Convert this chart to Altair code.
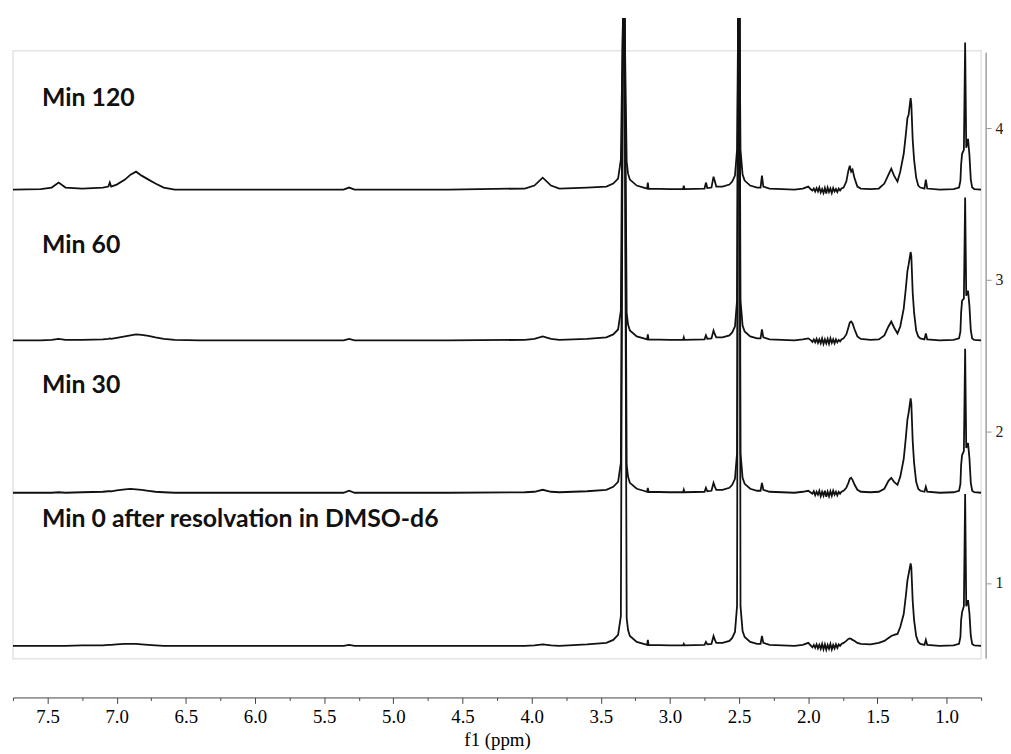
import altair as alt
import pandas as pd

# chemical shift grid (ppm), shared by all four spectra
ppm = [7.75, 7.55, 7.47, 7.42, 7.37, 7.25, 7.10, 7.06, 7.05, 7.04, 7.00, 6.94, 6.90, 6.86, 6.82, 6.77, 6.72, 6.66, 6.58, 6.40,
       5.80, 5.36, 5.32, 5.28, 4.60, 4.05, 3.98, 3.92, 3.86, 3.80, 3.60, 3.46, 3.41, 3.375,
       3.355, 3.340, 3.334, 3.328, 3.313, 3.303, 3.29, 3.24, 3.19, 3.165,
       3.16, 3.155, 3.00, 2.905, 2.90, 2.895, 2.75, 2.74, 2.73, 2.70, 2.685, 2.675, 2.665, 2.62, 2.57, 2.55,
       2.53, 2.515, 2.507, 2.497, 2.49, 2.475, 2.46, 2.42, 2.37, 2.345, 2.335, 2.325, 2.28, 2.10,
       2.04, 2.00, 1.98, 1.97, 1.96, 1.95, 1.94, 1.93, 1.92, 1.91, 1.90, 1.89, 1.88, 1.87, 1.86, 1.85, 1.84, 1.83, 1.82, 1.81, 1.80, 1.79, 1.78, 1.77, 1.76,
       1.745, 1.725, 1.71, 1.70, 1.69, 1.68, 1.665, 1.645, 1.62,
       1.55, 1.49, 1.45, 1.42, 1.40, 1.38, 1.355, 1.335, 1.31, 1.295, 1.283, 1.275, 1.26, 1.255, 1.245, 1.235, 1.22, 1.205, 1.19, 1.16, 1.15, 1.14, 1.05, 0.95, 0.91,
       0.90, 0.895, 0.888, 0.875, 0.866, 0.858, 0.845, 0.835, 0.825, 0.815, 0.80, 0.75]

# intensities (a.u.) of each spectrum; the water and DMSO peaks run off the top
min120 = [0, 0.5, 2, 7, 2, 1, 2, 3, 7, 3, 5, 10, 15, 18, 14, 10, 6, 2, 0, 0,
          0, 0, 2, 0, 0, 1, 4, 12, 4, 1, 2, 3, 6, 11,
          30, 1000, 1000, 1000, 28, 16, 10, 4, 2, 1,
          7, 1, 0.5, 0.5, 4, 0.5, 1, 7, 1.5, 2, 13, 8, 3, 3, 5, 8,
          14, 40, 1000, 1000, 40, 15, 9, 4, 2, 2, 14, 3, 1, 0,
          1, 3, 0, -1, 1, -2, 1.5, -2, 2, -3, 0.5, -3.5, 1.5, -4, 2, -2.5, 1, -3.5, 1.5, -2, 0.5, -2.5, 1, -1, 1,
          2, 8, 19, 24, 18, 20, 11, 3, 1,
          0.5, 1, 6, 15, 21, 14, 8, 18, 36, 55, 72, 75, 92, 86, 50, 30, 12, 4, 2, 1, 10, 1, 0, 0.5, 2,
          9, 25, 36, 40, 148, 42, 51, 35, 10, 2, 0.5, 0]

min60 = [0, 0, 0.5, 1.5, 0.5, 0.5, 1, 1.5, 2, 1.5, 2.5, 4, 5, 6, 5.5, 4.5, 3, 1.5, 0.5, 0,
         0, 0, 1.5, 0, 0, 0.5, 1.5, 4, 1.5, 0.5, 1.5, 3, 6, 11,
         30, 1000, 1000, 1000, 28, 16, 10, 4, 2, 1,
         6, 1, 0.5, 0.5, 3, 0.5, 1, 5, 1.5, 2, 10, 6, 3, 3, 5, 8,
         14, 40, 1000, 1000, 40, 15, 9, 4, 2, 2, 11, 3, 1, 0,
         1, 2, 0, -1.5, 1, -2, 1.5, -2.5, 1, -3, 2, -3.5, 1, -3, 1.5, -3.5, 2, -2.5, 1, -3, 1, -2, 0.5, -1, 1,
         2, 6, 13, 18, 19, 17, 11, 4, 1.5,
         0.5, 1, 5, 14, 19, 13, 7, 14, 32, 52, 70, 76, 89, 85, 48, 28, 10, 4, 2, 1, 7, 1, 0, 0.5, 2,
         9, 28, 40, 42, 144, 45, 50, 35, 10, 2, 0.5, 0]

min30 = [0, 0, 0, 0.5, 0, 0.5, 1, 1.5, 1.5, 1.5, 2.5, 3.5, 4, 3.5, 3, 2, 1, 0.5, 0, 0,
         0, 0, 2, 0, 0, 0.5, 1, 3, 1, 0.5, 1.5, 3, 6, 11,
         30, 1000, 1000, 1000, 28, 16, 10, 4, 2, 1,
         5, 1, 0.5, 0.5, 3, 0.5, 1, 5, 1.5, 2, 10, 6, 3, 3, 5, 8,
         14, 40, 1000, 1000, 40, 15, 9, 4, 2, 2, 10, 3, 1, 0,
         1, 2, 0, -1, 1.5, -2.5, 1, -2, 2, -3.5, 1, -3, 2, -4, 1, -3.5, 1.5, -3, 2, -2, 1, -2.5, 1, -1, 1,
         2, 5, 10, 14, 15, 13, 8, 3, 1,
         0.5, 1, 4, 12, 15, 11, 8, 16, 34, 55, 74, 80, 95, 90, 52, 30, 11, 4, 2, 1, 6, 1, 0, 0.5, 2,
         9, 28, 38, 42, 145, 45, 50, 35, 10, 2, 0.5, 0]

min0 = [0, 0, 0, 0, 0, 0.5, 0.5, 1, 1, 1, 1.5, 2, 2, 2, 1.5, 1, 0.5, 0, 0, 0,
        0, 0, 1, 0, 0, 0, 0.5, 1.5, 0.5, 0, 1.5, 3, 6, 11,
        30, 1000, 1000, 1000, 28, 16, 10, 4, 2, 1,
        6, 1, 0.5, 0.5, 2, 0.5, 1, 4, 1.5, 2, 10, 6, 3, 3, 5, 8,
        14, 40, 1000, 1000, 40, 15, 9, 4, 2, 2, 10, 3, 1, 0,
        1, 3, 0, -1.5, 1, -2, 1.5, -2.5, 1, -3, 2, -3.5, 1.5, -4, 1, -3, 2, -3.5, 1, -2.5, 1.5, -2, 1.5, 0, 2,
        3, 5, 7, 7.5, 7, 6, 5, 3, 2,
        1.5, 3, 5, 8, 10, 11, 12, 19, 32, 50, 66, 72, 83, 79, 45, 26, 10, 4, 2, 1, 6, 1, 0, 0.5, 2,
        9, 26, 34, 40, 153, 40, 46, 33, 10, 2, 0.5, 0]

series_names = ["Min 0", "Min 30", "Min 60", "Min 120"]
stack_offsets = [0.585, 1.595, 2.600, 3.595]   # baseline of each trace on the right axis
intensity_per_step = 152.7                      # a.u. per stacking step

label_texts = ["Min 120", "Min 60", "Min 30", "Min 0 after resolvation in DMSO-d6"]
label_levels = [4.149, 3.179, 2.250, 1.366]
label_ppm = [7.54, 7.54, 7.54, 7.54]

x_tick_values = [7.75, 7.5, 7.25, 7.0, 6.75, 6.5, 6.25, 6.0, 5.75, 5.5, 5.25,
                 5.0, 4.75, 4.5, 4.25, 4.0, 3.75, 3.5, 3.25, 3.0, 2.75, 2.5,
                 2.25, 2.0, 1.75, 1.5, 1.25, 1.0, 0.75]
y_tick_values = [1, 2, 3, 4]

rows = []
for name, off, vals in zip(series_names, stack_offsets, [min0, min30, min60, min120]):
    assert len(vals) == len(ppm), (name, len(vals), len(ppm))
    for p, v in zip(ppm, vals):
        rows.append({"series": name, "ppm": p, "y": off + v / intensity_per_step})
df = pd.DataFrame(rows)
labels_df = pd.DataFrame({"text": label_texts, "ppm": label_ppm, "level": label_levels})
one = pd.DataFrame({"k": [0]})

W, H = 976, 646

x_scale = alt.Scale(domain=[7.75, 0.75], nice=False, zero=False)
y_scale = alt.Scale(domain=[0.5, 4.727], nice=False, zero=False, clamp=True)

x_axis = alt.Axis(
    title="f1 (ppm)", values=x_tick_values,
    labelExpr="datum.value % 0.5 == 0 ? format(datum.value, '.1f') : ''",
    offset=39, grid=False, domainColor="#444", domainWidth=1,
    tickColor="#444", tickWidth=1,
    tickSize={"condition": {"test": "datum.value % 0.5 == 0", "value": 6}, "value": 3},
    labelFont="Liberation Serif", labelFontSize=19, labelColor="#000",
    labelPadding=4, labelFlush=False, labelOverlap=False,
    titleFont="Liberation Serif", titleFontSize=19, titleFontWeight="normal",
    titleColor="#000", titlePadding=4,
)
y_axis = alt.Axis(
    orient="right", values=y_tick_values, offset=5, domain=False, grid=False,
    tickColor="#999", tickSize=5, tickWidth=1,
    labelFont="Liberation Serif", labelFontSize=16, labelColor="#222",
    labelPadding=4, title=None,
)

box = alt.Chart(one).mark_rect(fillOpacity=0, stroke="#e3e3e3", strokeWidth=1.5).encode(
    x=alt.value(0), x2=alt.value(W), y=alt.value(33), y2=alt.value(H)
)
axis_line = alt.Chart(one).mark_rule(color="#a0a0a0", strokeWidth=1.5).encode(
    x=alt.value(W + 5), y=alt.value(35), y2=alt.value(H)
)
lines = alt.Chart(df).mark_line(color="#111", strokeWidth=1.8, clip=True).encode(
    x=alt.X("ppm:Q", scale=x_scale, axis=x_axis),
    y=alt.Y("y:Q", scale=y_scale, axis=y_axis),
    detail="series:N",
)
labels = alt.Chart(labels_df).mark_text(
    align="left", baseline="alphabetic", font="Lato", fontWeight="bold",
    fontSize=25, color="#111"
).encode(
    x=alt.X("ppm:Q", scale=x_scale, axis=x_axis),
    y=alt.Y("level:Q", scale=y_scale, axis=y_axis),
    text="text:N",
)

chart = alt.layer(box, axis_line, lines, labels).properties(
    width=W, height=H,
    padding={"left": 4, "top": 7, "right": 0, "bottom": 0},
).configure_view(strokeOpacity=0)

chart.save("out.html", embed_options={"renderer": "svg", "actions": False})
